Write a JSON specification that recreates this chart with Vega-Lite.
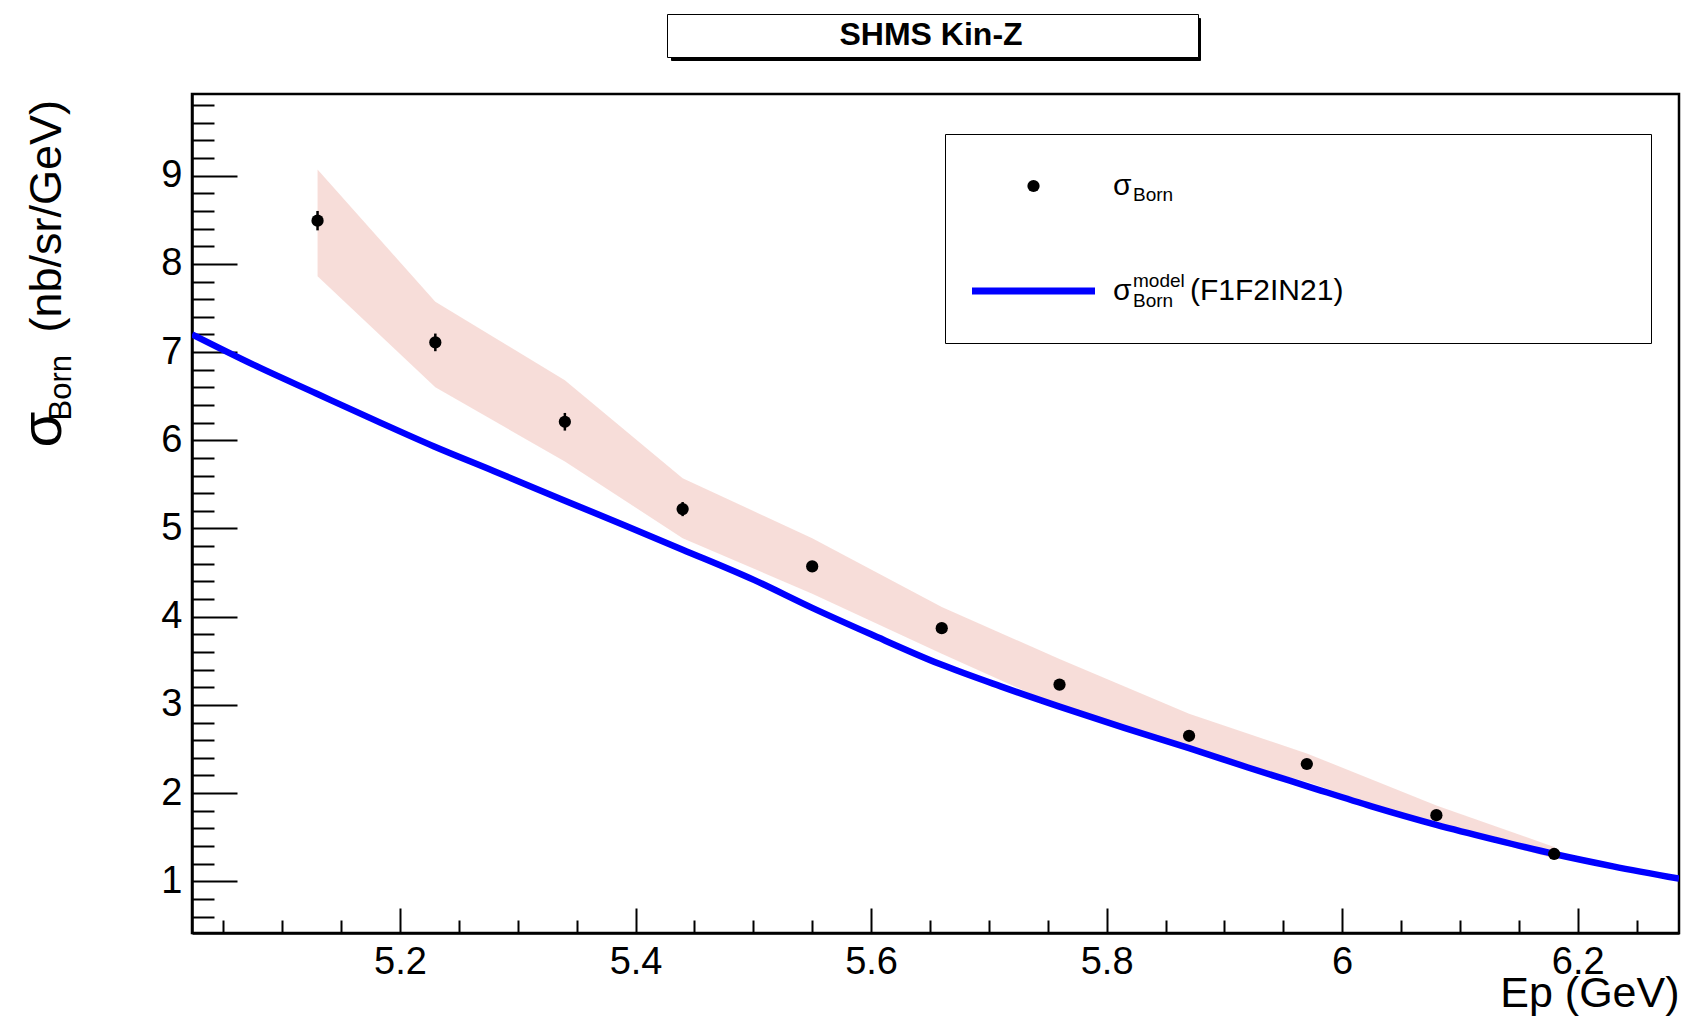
{
  "$schema": "https://vega.github.io/schema/vega-lite/v6.json",
  "width": 1487,
  "height": 839,
  "autosize": {"type": "none"},
  "padding": {"left": 192, "top": 94, "right": 7, "bottom": 87},
  "background": "white",
  "config": {
    "font": "Liberation Sans",
    "view": {"stroke": "black", "strokeWidth": 2.5},
    "axis": {"grid": false, "labelFont": "Liberation Sans", "titleFont": "Liberation Sans", "labelColor": "black", "titleColor": "black", "tickColor": "black", "domainColor": "black", "titleFontWeight": "normal", "labelFlush": false, "labelOverlap": false}
  },
  "datasets": {
    "points": [
      {"Ep": 5.13, "sigma": 8.49, "err": 0.11, "series": "σBorn"},
      {"Ep": 5.23, "sigma": 7.11, "err": 0.10, "series": "σBorn"},
      {"Ep": 5.34, "sigma": 6.21, "err": 0.10, "series": "σBorn"},
      {"Ep": 5.44, "sigma": 5.22, "err": 0.08, "series": "σBorn"},
      {"Ep": 5.55, "sigma": 4.57, "err": 0.06, "series": "σBorn"},
      {"Ep": 5.66, "sigma": 3.87, "err": 0.05, "series": "σBorn"},
      {"Ep": 5.76, "sigma": 3.23, "err": 0.04, "series": "σBorn"},
      {"Ep": 5.87, "sigma": 2.65, "err": 0.04, "series": "σBorn"},
      {"Ep": 5.97, "sigma": 2.33, "err": 0.03, "series": "σBorn"},
      {"Ep": 6.08, "sigma": 1.75, "err": 0.03, "series": "σBorn"},
      {"Ep": 6.18, "sigma": 1.31, "err": 0.03, "series": "σBorn"}
    ],
    "band": [
      {"Ep": 5.13, "hi": 9.07, "lo": 7.86},
      {"Ep": 5.23, "hi": 7.57, "lo": 6.60},
      {"Ep": 5.34, "hi": 6.68, "lo": 5.76},
      {"Ep": 5.44, "hi": 5.57, "lo": 4.89},
      {"Ep": 5.55, "hi": 4.89, "lo": 4.26},
      {"Ep": 5.66, "hi": 4.11, "lo": 3.58},
      {"Ep": 5.76, "hi": 3.52, "lo": 2.98},
      {"Ep": 5.87, "hi": 2.90, "lo": 2.48},
      {"Ep": 5.97, "hi": 2.45, "lo": 2.13},
      {"Ep": 6.08, "hi": 1.86, "lo": 1.62},
      {"Ep": 6.18, "hi": 1.39, "lo": 1.26}
    ],
    "model": [
      {"Ep": 5.0234, "sigma": 7.20, "series": "σBorn model (F1F2IN21)"},
      {"Ep": 5.075, "sigma": 6.86, "series": "σBorn model (F1F2IN21)"},
      {"Ep": 5.129, "sigma": 6.53, "series": "σBorn model (F1F2IN21)"},
      {"Ep": 5.18, "sigma": 6.22, "series": "σBorn model (F1F2IN21)"},
      {"Ep": 5.229, "sigma": 5.93, "series": "σBorn model (F1F2IN21)"},
      {"Ep": 5.28, "sigma": 5.65, "series": "σBorn model (F1F2IN21)"},
      {"Ep": 5.339, "sigma": 5.32, "series": "σBorn model (F1F2IN21)"},
      {"Ep": 5.39, "sigma": 5.04, "series": "σBorn model (F1F2IN21)"},
      {"Ep": 5.44, "sigma": 4.76, "series": "σBorn model (F1F2IN21)"},
      {"Ep": 5.50, "sigma": 4.42, "series": "σBorn model (F1F2IN21)"},
      {"Ep": 5.55, "sigma": 4.10, "series": "σBorn model (F1F2IN21)"},
      {"Ep": 5.60, "sigma": 3.80, "series": "σBorn model (F1F2IN21)"},
      {"Ep": 5.659, "sigma": 3.46, "series": "σBorn model (F1F2IN21)"},
      {"Ep": 5.71, "sigma": 3.21, "series": "σBorn model (F1F2IN21)"},
      {"Ep": 5.76, "sigma": 2.98, "series": "σBorn model (F1F2IN21)"},
      {"Ep": 5.815, "sigma": 2.74, "series": "σBorn model (F1F2IN21)"},
      {"Ep": 5.87, "sigma": 2.51, "series": "σBorn model (F1F2IN21)"},
      {"Ep": 5.92, "sigma": 2.29, "series": "σBorn model (F1F2IN21)"},
      {"Ep": 5.97, "sigma": 2.08, "series": "σBorn model (F1F2IN21)"},
      {"Ep": 6.025, "sigma": 1.85, "series": "σBorn model (F1F2IN21)"},
      {"Ep": 6.08, "sigma": 1.64, "series": "σBorn model (F1F2IN21)"},
      {"Ep": 6.13, "sigma": 1.47, "series": "σBorn model (F1F2IN21)"},
      {"Ep": 6.18, "sigma": 1.31, "series": "σBorn model (F1F2IN21)"},
      {"Ep": 6.23, "sigma": 1.17, "series": "σBorn model (F1F2IN21)"},
      {"Ep": 6.286, "sigma": 1.03, "series": "σBorn model (F1F2IN21)"}
    ]
  },
  "layer": [
    {
      "data": {"name": "band"},
      "mark": {"type": "area", "fill": "#e9a59b", "opacity": 0.38, "interpolate": "linear"},
      "encoding": {
        "x": {"field": "Ep", "type": "quantitative", "scale": {"domain": [5.0234, 6.286], "nice": false, "zero": false},
          "axis": {"orient": "bottom", "values": [5.2, 5.4, 5.6, 5.8, 6, 6.2], "format": "~g", "tickSize": -25, "tickWidth": 2, "domainWidth": 2.5, "labelFontSize": 38, "labelPadding": 35, "title": "Ep (GeV)", "titleFontSize": 43, "titleX": 1487, "titleY": 73, "titleAlign": "right", "titleBaseline": "alphabetic"}},
        "y": {"field": "hi", "type": "quantitative", "scale": {"domain": [0.414, 9.926], "nice": false, "zero": false},
          "axis": {"orient": "left", "values": [1, 2, 3, 4, 5, 6, 7, 8, 9], "tickSize": -45, "tickWidth": 2, "domainWidth": 2.5, "labelFontSize": 38, "labelPadding": 55, "title": "σ", "titleFontSize": 58, "titleAngle": 270, "titleX": -132, "titleY": 353, "titleAlign": "left", "titleBaseline": "alphabetic"}},
        "y2": {"field": "lo"}
      }
    },
    {
      "data": {"name": "model"},
      "mark": {"type": "line", "strokeWidth": 6.5, "interpolate": "monotone", "clip": true},
      "encoding": {
        "x": {"field": "Ep", "type": "quantitative", "scale": {"domain": [5.0234, 6.286], "nice": false, "zero": false},
          "axis": {"orient": "bottom", "values": [5.05, 5.1, 5.15, 5.25, 5.3, 5.35, 5.45, 5.5, 5.55, 5.65, 5.7, 5.75, 5.85, 5.9, 5.95, 6.05, 6.1, 6.15, 6.25], "tickSize": -13, "tickWidth": 2, "labels": false, "domain": false, "title": null}},
        "y": {"field": "sigma", "type": "quantitative", "scale": {"domain": [0.414, 9.926], "nice": false, "zero": false},
          "axis": {"orient": "left", "values": [0.6, 0.8, 1.2, 1.4, 1.6, 1.8, 2.2, 2.4, 2.6, 2.8, 3.2, 3.4, 3.6, 3.8, 4.2, 4.4, 4.6, 4.8, 5.2, 5.4, 5.6, 5.8, 6.2, 6.4, 6.6, 6.8, 7.2, 7.4, 7.6, 7.8, 8.2, 8.4, 8.6, 8.8, 9.2, 9.4, 9.6, 9.8], "tickSize": -22, "tickWidth": 2, "labels": false, "domain": false, "title": "Born", "titleFontSize": 31, "titleAngle": 270, "titleX": -122, "titleY": 326, "titleAlign": "left", "titleBaseline": "alphabetic"}},
        "color": {"field": "series", "type": "nominal", "scale": {"domain": ["σBorn", "σBorn model (F1F2IN21)"], "range": ["black", "#0000ff"]},
          "legend": {"title": null, "orient": "none", "legendX": 753, "legendY": 40, "direction": "vertical", "columns": 1, "padding": 23.5, "symbolType": "stroke", "symbolSize": 15129, "symbolStrokeWidth": 7, "symbolOffset": 50, "clipHeight": 57, "rowPadding": 48, "labelOffset": 64.5, "labelFont": "Liberation Sans", "labelFontSize": 30, "labelColor": "black", "labelLimit": 2000, "zindex": 1,
            "labelExpr": "'σ'",
            "encode": {"symbols": {"update": {"shape": {"signal": "datum.value === 'σBorn' ? 'circle' : 'stroke'"}, "size": {"signal": "datum.value === 'σBorn' ? 150 : 15129"}, "fill": {"signal": "datum.value === 'σBorn' ? 'black' : 'transparent'"}, "stroke": {"signal": "datum.value === 'σBorn' ? 'black' : '#0000ff'"}, "strokeWidth": {"signal": "datum.value === 'σBorn' ? 0 : 7"}, "opacity": {"value": 1}}}}}}
      }
    },
    {
      "data": {"name": "points"},
      "mark": {"type": "errorbar", "color": "black", "thickness": 2.5},
      "encoding": {
        "x": {"field": "Ep", "type": "quantitative", "scale": {"domain": [5.0234, 6.286], "nice": false, "zero": false}, "axis": null},
        "y": {"field": "sigma", "type": "quantitative", "scale": {"domain": [0.414, 9.926], "nice": false, "zero": false}, "axis": null},
        "yError": {"field": "err"}
      }
    },
    {
      "data": {"name": "points"},
      "mark": {"type": "point", "filled": true, "size": 150, "opacity": 1},
      "encoding": {
        "x": {"field": "Ep", "type": "quantitative", "scale": {"domain": [5.0234, 6.286], "nice": false, "zero": false}, "axis": null},
        "y": {"field": "sigma", "type": "quantitative", "scale": {"domain": [0.414, 9.926], "nice": false, "zero": false},
          "axis": {"orient": "left", "ticks": false, "labels": false, "domain": false, "title": "(nb/sr/GeV)", "titleFontSize": 45, "titleAngle": 270, "titleX": -132, "titleY": 238, "titleAlign": "left", "titleBaseline": "alphabetic"}},
        "color": {"field": "series", "type": "nominal", "scale": {"domain": ["σBorn", "σBorn model (F1F2IN21)"], "range": ["black", "#0000ff"]},
          "legend": {"title": null, "orient": "none", "legendX": 753, "legendY": 40, "direction": "vertical", "columns": 1, "padding": 23.5, "symbolType": "stroke", "symbolSize": 15129, "symbolStrokeWidth": 7, "symbolOffset": 50, "clipHeight": 57, "rowPadding": 48, "labelOffset": 64.5, "labelFont": "Liberation Sans", "labelFontSize": 30, "labelColor": "black", "labelLimit": 2000, "zindex": 1,
            "labelExpr": "'σ'",
            "encode": {"symbols": {"update": {"shape": {"signal": "datum.value === 'σBorn' ? 'circle' : 'stroke'"}, "size": {"signal": "datum.value === 'σBorn' ? 150 : 15129"}, "fill": {"signal": "datum.value === 'σBorn' ? 'black' : 'transparent'"}, "stroke": {"signal": "datum.value === 'σBorn' ? 'black' : '#0000ff'"}, "strokeWidth": {"signal": "datum.value === 'σBorn' ? 0 : 7"}, "opacity": {"value": 1}}}}}}
      }
    },
    {
      "data": {"name": "points"},
      "mark": {"type": "point", "opacity": 0, "strokeOpacity": 0, "fillOpacity": 0},
      "encoding": {
        "x": {"field": "Ep", "type": "quantitative", "scale": {"domain": [5.0234, 6.286], "nice": false, "zero": false}, "axis": null},
        "y": {"field": "sigma", "type": "quantitative", "scale": {"domain": [0.414, 9.926], "nice": false, "zero": false}, "axis": null},
        "opacity": {"datum": "legend frame", "type": "nominal",
          "legend": {"title": null, "orient": "none", "legendX": 753, "legendY": 40, "direction": "vertical", "columns": 1, "padding": 0, "strokeColor": "black", "fillColor": "white", "symbolType": "stroke", "symbolSize": 498436, "symbolStrokeWidth": 0, "symbolOffset": 0, "clipHeight": 209, "labelOffset": 0, "labelFontSize": 10, "zindex": 0,
            "labelExpr": "''",
            "encode": {"legend": {"update": {"strokeWidth": {"value": 2}}}, "symbols": {"update": {"stroke": {"value": "transparent"}, "fill": {"value": "transparent"}, "opacity": {"value": 0}}}}}}
      }
    },
    {
      "data": {"name": "points"},
      "mark": {"type": "point", "opacity": 0, "strokeOpacity": 0, "fillOpacity": 0},
      "encoding": {
        "x": {"field": "Ep", "type": "quantitative", "scale": {"domain": [5.0234, 6.286], "nice": false, "zero": false}, "axis": null},
        "y": {"field": "sigma", "type": "quantitative", "scale": {"domain": [0.414, 9.926], "nice": false, "zero": false}, "axis": null},
        "strokeWidth": {"datum": "(F1F2IN21)", "type": "nominal",
          "legend": {"title": null, "orient": "none", "legendX": 968, "legendY": 168.5, "direction": "vertical", "columns": 1, "padding": 0, "symbolSize": 0, "symbolOffset": 0, "clipHeight": 57, "labelOffset": 0, "labelFont": "Liberation Sans", "labelFontSize": 30, "labelColor": "black", "labelLimit": 2000, "zindex": 2,
            "encode": {"symbols": {"update": {"stroke": {"value": "transparent"}, "fill": {"value": "transparent"}, "opacity": {"value": 0}}}}}}
      }
    },
    {
      "data": {"name": "points"},
      "mark": {"type": "point", "opacity": 0},
      "encoding": {
        "x": {"field": "Ep", "type": "quantitative", "scale": {"domain": [5.0234, 6.286], "nice": false, "zero": false}, "axis": null},
        "y": {"field": "sigma", "type": "quantitative", "scale": {"domain": [0.414, 9.926], "nice": false, "zero": false}, "axis": null},
        "shape": {"datum": "SHMS Kin-Z",
          "legend": {"title": null, "orient": "none", "legendX": 475, "legendY": -80, "direction": "vertical", "columns": 1, "padding": 6, "strokeColor": "black", "fillColor": "white", "symbolType": "stroke", "symbolSize": 26896, "symbolStrokeWidth": 0, "symbolOpacity": 0, "clipHeight": 30, "labelOffset": 2.5, "labelFont": "Liberation Sans", "labelFontWeight": "bold", "labelFontSize": 32, "labelColor": "black", "labelLimit": 2000, "zindex": 1,
            "labelExpr": "datum.label + '\u00a0\u00a0\u00a0\u00a0\u00a0\u00a0\u00a0\u00a0\u00a0\u00a0\u00a0\u00a0\u00a0\u00a0\u00a0\u00a0\u00a0\u00a0\u00a0\u200b'",
            "encode": {"legend": {"update": {"strokeWidth": {"value": 2.5}}}}}}
      }
    },
    {
      "data": {"name": "points"},
      "mark": {"type": "point", "opacity": 0},
      "encoding": {
        "x": {"field": "Ep", "type": "quantitative", "scale": {"domain": [5.0234, 6.286], "nice": false, "zero": false}, "axis": null},
        "y": {"field": "sigma", "type": "quantitative", "scale": {"domain": [0.414, 9.926], "nice": false, "zero": false}, "axis": null},
        "stroke": {"datum": "title shadow",
          "legend": {"title": null, "orient": "none", "legendX": 479, "legendY": -76, "direction": "vertical", "columns": 1, "padding": 6, "strokeColor": "black", "fillColor": "black", "symbolType": "stroke", "symbolSize": 267289, "symbolStrokeWidth": 0, "symbolOpacity": 0, "clipHeight": 30, "labelOffset": 0, "labelFontSize": 10, "zindex": 0,
            "labelExpr": "''",
            "encode": {"legend": {"update": {"strokeWidth": {"value": 2.5}}}, "symbols": {"update": {"stroke": {"value": "transparent"}, "fill": {"value": "transparent"}, "opacity": {"value": 0}}}}}}
      }
    },
    {
      "data": {"name": "points"},
      "mark": {"type": "point", "opacity": 0},
      "encoding": {
        "x": {"field": "Ep", "type": "quantitative", "scale": {"domain": [5.0234, 6.286], "nice": false, "zero": false}, "axis": null},
        "y": {"field": "sigma", "type": "quantitative", "scale": {"domain": [0.414, 9.926], "nice": false, "zero": false}, "axis": null},
        "strokeDash": {"datum": "Born (data)", "scale": {"domain": ["Born (data)", "Born (model)"]},
          "legend": {"title": null, "orient": "none", "legendX": 922, "legendY": 91, "direction": "vertical", "columns": 1, "padding": 0, "symbolSize": 0, "symbolStrokeWidth": 0, "symbolOpacity": 0, "symbolOffset": 0, "clipHeight": 20, "rowPadding": 86, "labelOffset": 0, "labelFont": "Liberation Sans", "labelFontSize": 19, "labelColor": "black", "labelLimit": 500, "zindex": 2,
            "labelExpr": "'Born'"}}
      }
    },
    {
      "data": {"name": "points"},
      "mark": {"type": "point", "opacity": 0},
      "encoding": {
        "x": {"field": "Ep", "type": "quantitative", "scale": {"domain": [5.0234, 6.286], "nice": false, "zero": false}, "axis": null},
        "y": {"field": "sigma", "type": "quantitative", "scale": {"domain": [0.414, 9.926], "nice": false, "zero": false}, "axis": null},
        "fill": {"datum": "model",
          "legend": {"title": null, "orient": "none", "legendX": 922, "legendY": 177, "direction": "vertical", "columns": 1, "padding": 0, "symbolSize": 0, "symbolStrokeWidth": 0, "symbolOpacity": 0, "symbolOffset": 0, "clipHeight": 20, "labelOffset": 0, "labelFont": "Liberation Sans", "labelFontSize": 19, "labelColor": "black", "labelLimit": 500, "zindex": 2}}
      }
    }
  ],
  "resolve": {"axis": {"x": "independent", "y": "independent"}}
}
